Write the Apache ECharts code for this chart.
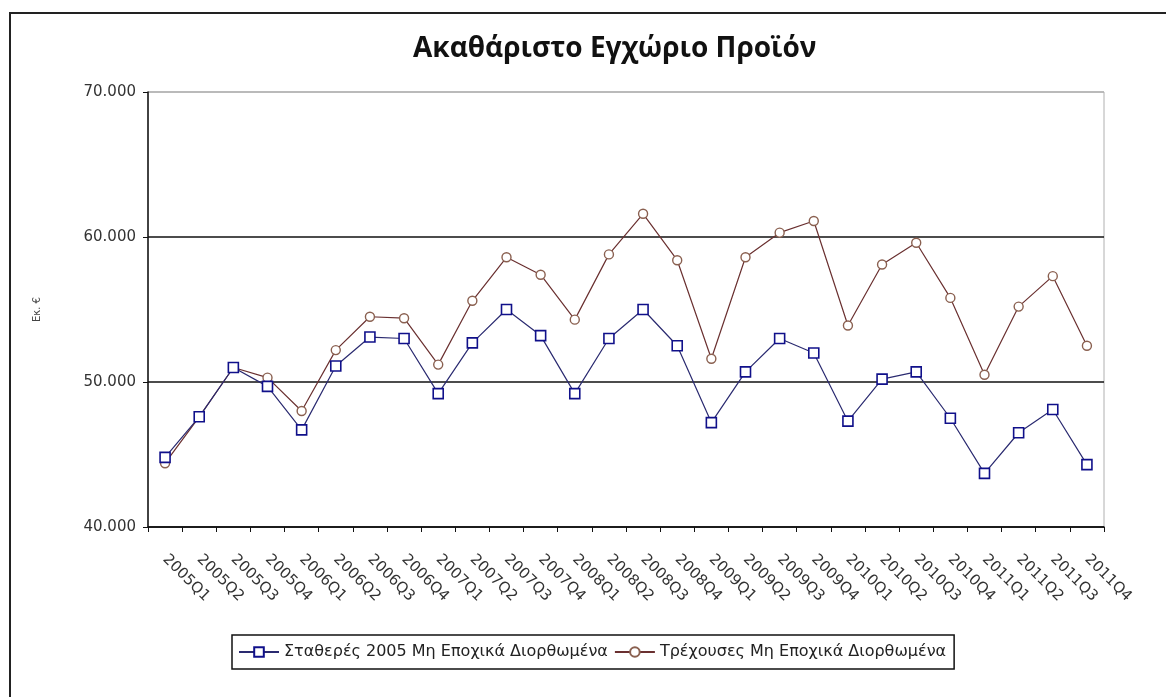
<!DOCTYPE html>
<html>
<head>
<meta charset="utf-8">
<script src="https://cdn.jsdelivr.net/npm/echarts@6/dist/echarts.min.js"></script>
<style>
html, body { margin: 0; padding: 0; background: #fff; }
#main { width: 1166px; height: 697px; }
</style>
</head>
<body>
<div id="main"></div>
<script>
var quarters = ['2005Q1','2005Q2','2005Q3','2005Q4','2006Q1','2006Q2','2006Q3','2006Q4',
  '2007Q1','2007Q2','2007Q3','2007Q4','2008Q1','2008Q2','2008Q3','2008Q4',
  '2009Q1','2009Q2','2009Q3','2009Q4','2010Q1','2010Q2','2010Q3','2010Q4',
  '2011Q1','2011Q2','2011Q3','2011Q4'];

// Σταθερές τιμές 2005 (εκ. €)
var constant2005 = [44800, 47600, 51000, 49700, 46700, 51100, 53100, 53000,
  49200, 52700, 55000, 53200, 49200, 53000, 55000, 52500,
  47200, 50700, 53000, 52000, 47300, 50200, 50700, 47500,
  43700, 46500, 48100, 44300];

// Τρέχουσες τιμές (εκ. €)
var current = [44400, 47600, 51000, 50300, 48000, 52200, 54500, 54400,
  51200, 55600, 58600, 57400, 54300, 58800, 61600, 58400,
  51600, 58600, 60300, 61100, 53900, 58100, 59600, 55800,
  50500, 55200, 57300, 52500];

var seriesNames = ['Σταθερές 2005 Μη Εποχικά Διορθωμένα', 'Τρέχουσες Μη Εποχικά Διορθωμένα'];

var chart = echarts.init(document.getElementById('main'));

var option = {
  backgroundColor: '#fff',
  textStyle: { fontFamily: 'DejaVu Sans' },
  title: {
    text: 'Ακαθάριστο Εγχώριο Προϊόν',
    left: 408,
    top: 30,
    textStyle: { fontFamily: 'Open Sans', fontSize: 28, fontWeight: 'bold', color: '#111' }
  },
  graphic: [{
    type: 'rect',
    shape: { x: 10, y: 13, width: 1200, height: 720 },
    style: { fill: 'none', stroke: '#222', lineWidth: 2 },
    silent: true
  }],
  legend: {
    left: 232,
    top: 635,
    padding: [9, 8, 9, 6],
    borderColor: '#111',
    borderWidth: 1.5,
    borderRadius: 0,
    itemWidth: 40,
    itemHeight: 12,
    itemGap: 6,
    textStyle: { fontFamily: 'DejaVu Sans', fontSize: 16, color: '#222' },
    data: seriesNames
  },
  grid: {
    left: 148,
    top: 92,
    right: 62,
    bottom: 170,
    show: true,
    borderColor: '#b0b0b0',
    borderWidth: 1
  },
  xAxis: {
    type: 'category',
    data: quarters,
    boundaryGap: true,
    axisLine: { lineStyle: { color: '#111', width: 1.5 } },
    axisTick: { show: true, alignWithLabel: false, length: 5, lineStyle: { color: '#111' } },
    axisLabel: { rotate: -45, interval: 0, margin: 30, fontSize: 15, color: '#333' }
  },
  yAxis: {
    type: 'value',
    min: 40000,
    max: 70000,
    interval: 10000,
    name: 'Εκ. €',
    nameLocation: 'middle',
    nameRotate: 90,
    nameGap: 106,
    nameTextStyle: { fontSize: 10, color: '#444' },
    axisLine: { show: true, lineStyle: { color: '#111', width: 1.5 } },
    axisTick: { show: true, length: 5, lineStyle: { color: '#111' } },
    axisLabel: {
      fontSize: 15,
      color: '#333',
      margin: 12,
      formatter: function (v) {
        return String(v).replace(/\B(?=(\d{3})+(?!\d))/g, '.');
      }
    },
    splitLine: {
      show: true,
      lineStyle: { color: ['#111', '#111', '#111', '#b0b0b0'], width: 1.5 }
    }
  },
  series: [
    {
      name: seriesNames[0],
      type: 'line',
      data: constant2005,
      symbol: 'rect',
      symbolSize: 10,
      lineStyle: { color: '#2a2a70', width: 1.2 },
      itemStyle: { color: '#fff', borderColor: '#10108a', borderWidth: 1.6 },
      color: '#10108a',
      z: 3
    },
    {
      name: seriesNames[1],
      type: 'line',
      data: current,
      symbol: 'circle',
      symbolSize: 9,
      lineStyle: { color: '#6a3030', width: 1.2 },
      itemStyle: { color: '#fff', borderColor: '#8a6050', borderWidth: 1.4 },
      color: '#800000',
      z: 2
    }
  ]
};

chart.setOption(option);
</script>
</body>
</html>
